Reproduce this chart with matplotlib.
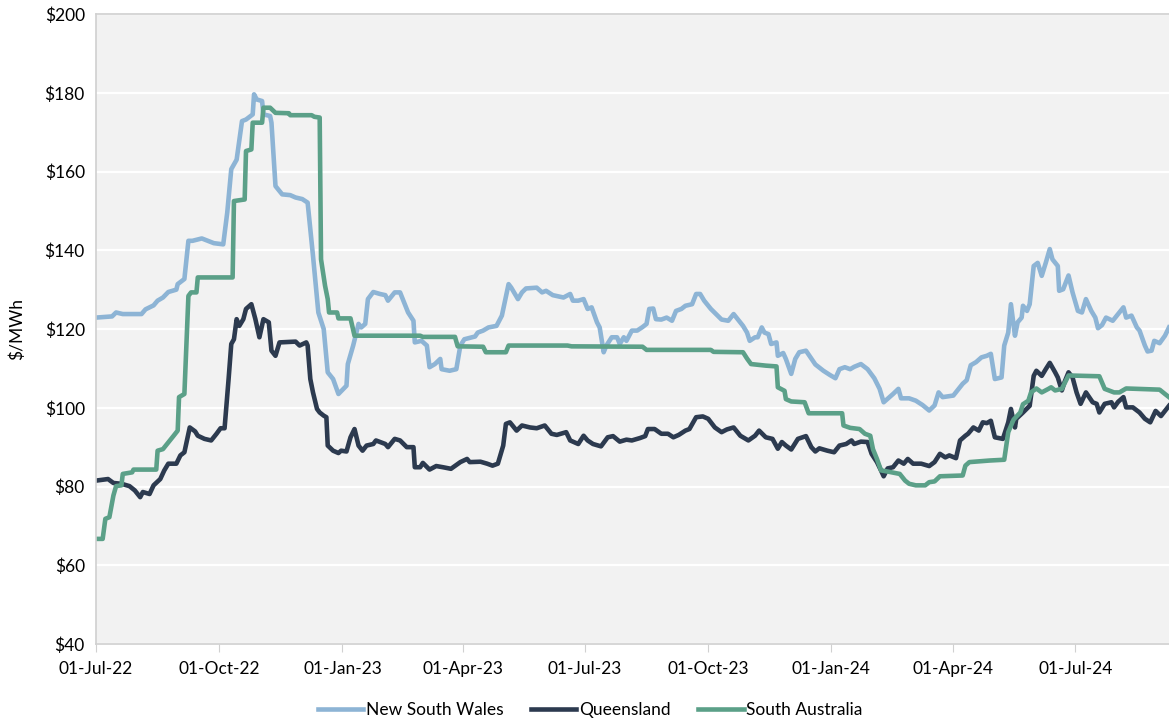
import matplotlib
matplotlib.use("Agg")
import matplotlib.pyplot as plt
import matplotlib.dates as mdates
import numpy as np

plt.rcParams['font.family'] = ['Lato', 'DejaVu Sans']

# days since 01-Jul-22 and price ($/MWh)
nsw_days = [0, 12, 15, 20, 34, 37, 43, 46, 50, 54, 60, 61, 66, 69, 72, 79, 88, 95, 98, 101,
            105, 109, 112, 115, 117, 118, 120, 124, 125, 130, 131, 134, 139, 145, 149, 154, 158,
            160, 162, 166, 170, 173, 177, 181, 187, 188, 192, 196, 198, 201, 203, 207, 212, 216,
            218, 223, 227, 229, 233, 237, 238, 243, 247, 249, 253, 257, 258, 264, 269, 272, 275,
            283, 285, 289, 293, 299, 303, 308, 310, 315, 318, 321, 329, 333, 336, 341, 349, 354,
            356, 360, 364, 367, 370, 374, 376, 379, 381, 385, 389, 391, 394, 396, 400, 404, 408,
            411, 413, 416, 418, 422, 426, 430, 433, 437, 440, 445, 448, 451, 454, 459, 464, 467,
            472, 476, 479, 483, 486, 488, 492, 494, 497, 499, 502, 504, 508, 509, 513, 515, 519,
            522, 525, 530, 533, 537, 543, 548, 552, 555, 559, 563, 566, 571, 576, 581, 585, 588,
            591, 595, 599, 601, 607, 612, 617, 622, 626, 629, 632, 640, 643, 647, 650, 653, 657,
            661, 665, 668, 671, 676, 678, 681, 683, 686, 688, 691, 692, 695, 697, 700, 703, 706,
            709, 712, 714, 718, 719, 722, 726, 729, 733, 736, 739, 743, 746, 748, 751, 754, 759,
            763, 767, 769, 773, 777, 779, 783, 785, 788, 790, 794, 798, 801]
nsw_vals = [122.9, 123.2, 124.2, 123.8, 123.8, 125.0, 126.0, 127.2, 128.0, 129.4, 130.0, 131.4,
            132.7, 142.4, 142.4, 143.0, 141.8, 141.5, 149.6, 160.6, 163.0, 172.8, 173.2, 174.0,
            174.5, 179.6, 178.3, 177.9, 174.5, 174.1, 172.4, 156.3, 154.2, 154.0, 153.4, 153.0,
            152.1, 145.3, 138.6, 124.2, 120.0, 109.0, 107.3, 103.5, 105.6, 111.1, 115.8, 121.3,
            120.4, 121.3, 127.6, 129.4, 128.9, 128.6, 127.2, 129.3, 129.3, 127.6, 124.2, 122.1,
            116.6, 117.0, 115.8, 110.3, 111.1, 112.4, 109.8, 109.4, 109.8, 115.8, 117.4, 118.1,
            119.1, 119.6, 120.4, 120.8, 123.4, 131.4, 130.5, 127.6, 129.3, 130.3, 130.5, 129.3,
            129.7, 128.6, 128.0, 128.9, 127.2, 127.2, 127.6, 125.1, 125.5, 121.7, 120.4, 114.1,
            115.8, 117.9, 117.9, 116.2, 117.9, 117.0, 119.6, 119.6, 120.5, 121.3, 125.1, 125.2,
            122.5, 122.4, 122.9, 122.1, 124.6, 125.1, 125.9, 126.3, 128.9, 128.9, 127.2, 125.1,
            123.4, 122.4, 122.1, 123.8, 122.5, 120.8, 119.1, 117.0, 117.9, 117.9, 120.4, 119.1,
            118.7, 116.2, 116.6, 113.2, 113.9, 112.4, 108.6, 112.4, 114.1, 114.5, 113.0, 111.0,
            109.4, 108.3, 107.5, 109.8, 110.3, 109.8, 110.4, 111.1, 109.8, 107.5, 104.8, 101.4,
            102.3, 103.5, 104.8, 102.4, 102.4, 101.8, 100.7, 99.3, 100.6, 103.9, 102.7, 103.1,
            104.4, 106.1, 107.0, 110.8, 111.6, 112.8, 113.2, 113.7, 107.3, 107.7, 115.8, 119.1,
            126.3, 118.3, 121.7, 122.9, 125.9, 124.6, 126.3, 136.0, 136.8, 133.5, 136.8, 140.3,
            137.7, 136.0, 129.7, 130.1, 133.6, 129.3, 124.6, 124.2, 127.6, 124.6, 122.9, 120.2,
            121.0, 122.9, 122.1, 123.8, 125.5, 122.9, 123.4, 120.4, 119.6, 115.8, 114.3, 114.5,
            117.0, 116.4, 118.3, 120.4]

qld_days = [0, 9, 13, 19, 25, 29, 33, 35, 40, 43, 48, 51, 54, 60, 63, 66, 70, 74, 76, 81, 86,
            90, 93, 96, 99, 101, 103, 105, 107, 110, 112, 116, 119, 122, 125, 129, 131, 134, 137,
            149, 152, 157, 158, 160, 162, 165, 167, 170, 172, 173, 177, 181, 183, 187, 190, 193,
            196, 199, 202, 207, 209, 216, 218, 223, 227, 232, 237, 238, 242, 244, 249, 254, 259,
            265, 272, 277, 279, 287, 292, 296, 300, 304, 306, 309, 314, 318, 324, 329, 335, 340,
            344, 351, 354, 360, 364, 367, 371, 377, 382, 386, 391, 396, 400, 406, 410, 412, 417,
            422, 427, 431, 435, 440, 443, 448, 453, 457, 462, 467, 471, 476, 481, 487, 492, 495,
            500, 505, 509, 512, 515, 519, 524, 530, 534, 537, 540, 546, 551, 555, 560, 564, 566,
            571, 576, 579, 583, 586, 588, 591, 595, 599, 603, 606, 610, 616, 622, 626, 630, 634,
            637, 642, 645, 649, 651, 655, 659, 662, 665, 668, 671, 677, 681, 683, 686, 687, 692,
            697, 700, 702, 706, 709, 712, 716, 718, 721, 723, 726, 729, 732, 735, 739, 744, 747,
            749, 753, 758, 760, 763, 767, 769, 774, 779, 783, 787, 791, 795, 801]
qld_vals = [81.5, 81.9, 80.9, 80.7, 80.1, 79.0, 77.3, 78.6, 78.1, 80.3, 81.9, 84.1, 85.8, 85.8,
            87.9, 88.7, 95.0, 94.0, 92.9, 92.1, 91.7, 93.4, 94.8, 94.8, 107.3, 116.2, 117.4,
            122.5, 120.8, 122.5, 125.1, 126.3, 122.5, 117.9, 122.5, 121.7, 114.5, 113.2, 116.6,
            116.8, 115.8, 116.6, 115.8, 107.3, 103.9, 99.7, 98.8, 98.0, 97.6, 90.4, 89.1, 88.5,
            89.1, 88.9, 92.5, 94.6, 90.4, 89.1, 90.4, 90.8, 91.7, 90.8, 90.0, 92.1, 91.7, 90.0,
            90.0, 84.9, 84.9, 86.0, 84.3, 85.2, 84.9, 84.5, 86.2, 87.0, 86.2, 86.3, 85.8, 85.3,
            85.8, 90.4, 95.9, 96.3, 94.2, 95.5, 95.0, 94.8, 95.5, 93.4, 93.1, 93.8, 91.7, 90.8,
            92.9, 91.7, 90.8, 90.2, 92.5, 92.8, 91.4, 91.9, 91.7, 92.3, 92.8, 94.6, 94.6, 93.4,
            93.4, 92.5, 93.1, 94.2, 94.6, 97.6, 97.8, 97.2, 95.0, 93.8, 94.5, 95.0, 92.9, 91.7,
            92.9, 94.2, 92.5, 92.1, 89.6, 91.3, 90.4, 89.4, 92.1, 92.8, 90.0, 88.9, 89.7, 89.1,
            88.7, 90.4, 90.8, 91.7, 90.8, 91.4, 91.3, 88.3, 86.2, 84.1, 82.6, 84.6, 84.9, 86.6,
            85.8, 87.0, 85.8, 85.8, 85.2, 86.2, 88.3, 87.4, 87.9, 87.2, 91.7, 92.9, 93.4, 95.0,
            94.2, 96.3, 96.1, 96.7, 92.5, 92.1, 96.3, 99.7, 95.0, 97.2, 98.8, 100.5, 108.1,
            109.4, 108.1, 109.8, 111.4, 109.0, 107.7, 104.4, 106.5, 109.0, 107.7, 103.9, 101.0,
            103.9, 101.4, 101.0, 98.8, 101.0, 101.4, 100.1, 101.5, 102.7, 100.1, 100.1, 98.8,
            97.2, 96.3, 99.2, 97.9, 100.5]

sa_days = [0, 5, 7, 10, 13, 15, 19, 20, 27, 28, 45, 46, 50, 54, 58, 61, 62, 66, 69, 71, 75, 76,
           102, 103, 111, 112, 116, 117, 124, 125, 130, 134, 144, 145, 161, 163, 167, 168, 171,
           173, 174, 180, 181, 190, 193, 242, 244, 268, 270, 289, 291, 306, 308, 352, 355, 408,
           411, 459, 461, 483, 486, 489, 500, 508, 509, 514, 515, 519, 529, 532, 557, 558, 563,
           570, 574, 578, 580, 583, 586, 591, 600, 604, 607, 612, 619, 622, 626, 630, 647, 649,
           652, 667, 678, 681, 685, 690, 692, 696, 698, 702, 706, 711, 713, 716, 721, 726, 749,
           753, 760, 764, 769, 794, 798, 801]
sa_vals = [66.7, 66.7, 71.8, 72.2, 77.7, 80.1, 80.3, 83.2, 83.6, 84.3, 84.3, 89.1, 89.5, 91.2,
           92.9, 94.2, 102.7, 103.5, 128.4, 129.3, 129.3, 133.1, 133.1, 152.5, 152.9, 165.2,
           165.6, 172.4, 172.4, 176.2, 176.2, 174.9, 174.8, 174.3, 174.3, 173.9, 173.7, 137.7,
           131.0, 127.6, 124.2, 124.2, 122.7, 122.7, 118.3, 118.3, 118.0, 118.0, 115.6, 115.5,
           114.1, 114.1, 115.8, 115.8, 115.6, 115.5, 114.7, 114.7, 114.2, 114.1, 112.5, 111.1,
           110.7, 110.5, 105.2, 104.3, 102.2, 101.6, 101.4, 98.6, 98.6, 95.5, 94.9, 94.6, 93.4,
           92.9, 89.5, 87.0, 84.1, 83.8, 83.2, 81.5, 80.7, 80.3, 80.3, 81.1, 81.3, 82.6, 82.8,
           85.3, 86.2, 86.6, 86.8, 93.8, 97.0, 98.8, 100.9, 101.8, 103.9, 104.9, 103.9, 104.8,
           105.2, 104.4, 104.8, 108.2, 108.0, 104.8, 103.9, 103.9, 104.9, 104.6, 103.5, 102.7]

start = np.datetime64('2022-07-01')
def to_dates(d):
    return start + np.array(d).astype('timedelta64[D]')

fig = plt.figure(figsize=(11.69, 7.22), dpi=100)
ax = fig.add_axes([0.0821, 0.108, 0.9179, 0.8726])
ax.set_facecolor('#f2f2f2')

ax.plot(to_dates(nsw_days), nsw_vals, color='#8DB4D5', lw=3.3, label='New South Wales')
ax.plot(to_dates(qld_days), qld_vals, color='#2C3A4F', lw=3.3, label='Queensland')
ax.plot(to_dates(sa_days), sa_vals, color='#5BA088', lw=3.3, label='South Australia')

ax.set_ylim(40, 200)
ax.set_yticks(range(40, 201, 20))
ax.set_yticklabels(['$%d' % v for v in range(40, 201, 20)])
ax.set_xlim(start, start + np.timedelta64(801, 'D'))
ticks = [np.datetime64(s) for s in ['2022-07-01', '2022-10-01', '2023-01-01', '2023-04-01',
                                    '2023-07-01', '2023-10-01', '2024-01-01', '2024-04-01',
                                    '2024-07-01']]
ax.set_xticks(ticks)
ax.xaxis.set_major_formatter(mdates.DateFormatter('%d-%b-%y'))

ax.yaxis.grid(True, color='white', lw=1.6)
ax.set_axisbelow(True)
for s in ['left', 'bottom', 'top']:
    ax.spines[s].set_color('#d0d0d0')
    ax.spines[s].set_linewidth(1.2)
ax.spines['right'].set_visible(False)
ax.tick_params(axis='y', length=0, pad=8, labelsize=12.5)
ax.tick_params(axis='x', length=6, color='#d0d0d0', pad=6, labelsize=12.5)
ax.set_ylabel('$/MWh', fontsize=12.5, labelpad=14)

fig.legend(loc='center', bbox_to_anchor=(0.505, 0.016), ncol=3, frameon=False,
           fontsize=12.5, handlelength=2.6, handletextpad=0.15, columnspacing=1.6)

fig.savefig('out.png', dpi=100)
